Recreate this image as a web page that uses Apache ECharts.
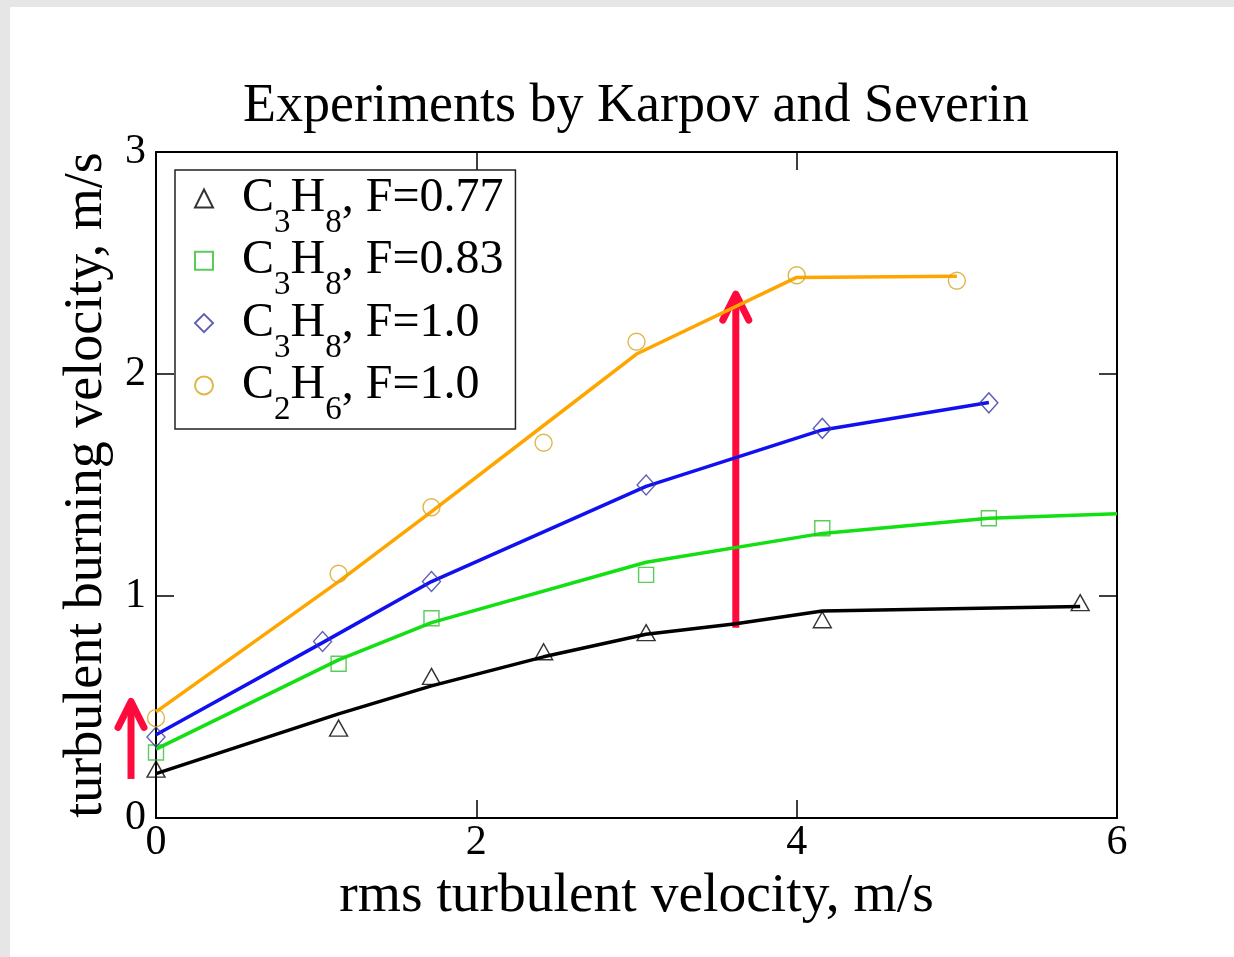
<!DOCTYPE html>
<html>
<head>
<meta charset="utf-8">
<script src="https://cdn.jsdelivr.net/npm/echarts@6/dist/echarts.min.js"></script>
<style>
  html, body { margin: 0; padding: 0; background: #e6e6e6; }
  #sheet { position: absolute; left: 10px; top: 7px; right: 0; bottom: 0; background: #ffffff; }
  #chart { position: absolute; left: 0; top: 0; width: 1234px; height: 957px; }
</style>
</head>
<body>
<div id="sheet"></div>
<div id="chart"></div>
<script>
// Measured turbulent burning velocities (markers)
const seriesNames = ['C3H8, F=0.77', 'C3H8, F=0.83', 'C3H8, F=1.0', 'C2H6, F=1.0'];

const ptsX_c3h8_077 = [0, 1.14, 1.72, 2.42, 3.06, 4.16, 5.77];
const ptsY_c3h8_077 = [0.22, 0.405, 0.638, 0.749, 0.835, 0.893, 0.97];

const ptsX_c3h8_083 = [0, 1.14, 1.72, 3.06, 4.16, 5.2];
const ptsY_c3h8_083 = [0.295, 0.695, 0.90, 1.095, 1.305, 1.35];

const ptsX_c3h8_100 = [0, 1.04, 1.72, 3.06, 4.16, 5.2];
const ptsY_c3h8_100 = [0.365, 0.795, 1.065, 1.50, 1.755, 1.87];

const ptsX_c2h6_100 = [0, 1.14, 1.72, 2.42, 3.0, 4.0, 5.0];
const ptsY_c2h6_100 = [0.45, 1.10, 1.40, 1.69, 2.145, 2.445, 2.42];

// Model curves (solid lines)
const fitX_c3h8_077 = [0, 1.14, 1.72, 2.42, 3.06, 3.62, 4.16, 5.77];
const fitY_c3h8_077 = [0.20, 0.469, 0.595, 0.726, 0.828, 0.875, 0.932, 0.953];

const fitX_c3h8_083 = [0, 1.14, 1.72, 3.06, 4.16, 5.2, 6.0];
const fitY_c3h8_083 = [0.31, 0.712, 0.88, 1.152, 1.282, 1.35, 1.37];

const fitX_c3h8_100 = [0, 1.04, 1.72, 3.06, 4.16, 5.2];
const fitY_c3h8_100 = [0.375, 0.79, 1.065, 1.494, 1.748, 1.872];

const fitX_c2h6_100 = [0, 1.14, 1.72, 2.42, 3.0, 4.0, 5.0];
const fitY_c2h6_100 = [0.478, 1.065, 1.38, 1.768, 2.09, 2.435, 2.44];

// Axis ticks
const xTicks = { min: 0, max: 6, step: 2 };
const yTicks = { min: 0, max: 3, step: 1 };

// Red annotation arrows (x position, tail value, head value)
const arrowX    = [-0.156, 3.62];
const arrowFrom = [0.176, 0.857];
const arrowTo   = [0.525, 2.36];

const SERIF = 'Liberation Serif';
const RED = '#ff0a3c';

function pairs(xs, ys) { return xs.map((x, i) => [x, ys[i]]); }

const chart = echarts.init(document.getElementById('chart'), null, { renderer: 'canvas' });

const markerSpec = [
  { symbol: 'triangle', size: [18, 16], stroke: '#000000' },
  { symbol: 'rect',     size: [15, 15], stroke: '#2fbf2f' },
  { symbol: 'diamond',  size: [18, 20], stroke: '#3838a0' },
  { symbol: 'circle',   size: [17, 17], stroke: '#d6a51c' }
];
const lineColors = ['#000000', '#12e012', '#1010f0', '#ffa500'];
const ptsX = [ptsX_c3h8_077, ptsX_c3h8_083, ptsX_c3h8_100, ptsX_c2h6_100];
const ptsY = [ptsY_c3h8_077, ptsY_c3h8_083, ptsY_c3h8_100, ptsY_c2h6_100];
const fitX = [fitX_c3h8_077, fitX_c3h8_083, fitX_c3h8_100, fitX_c2h6_100];
const fitY = [fitY_c3h8_077, fitY_c3h8_083, fitY_c3h8_100, fitY_c2h6_100];

const series = [];
seriesNames.forEach((name, i) => {
  series.push({
    type: 'line',
    data: pairs(fitX[i], fitY[i]),
    showSymbol: false,
    symbol: 'none',
    silent: true,
    lineStyle: { color: lineColors[i], width: 3.5 },
    z: 2
  });
});
seriesNames.forEach((name, i) => {
  series.push({
    type: 'scatter',
    name: name,
    data: pairs(ptsX[i], ptsY[i]),
    symbol: markerSpec[i].symbol,
    symbolSize: markerSpec[i].size,
    itemStyle: { color: 'rgba(255,255,255,0)', borderColor: markerSpec[i].stroke, borderWidth: 1.4 },
    z: 3
  });
});

const axisCommon = {
  type: 'value',
  axisLine: { show: true, onZero: false, lineStyle: { color: '#000', width: 2 } },
  axisTick: { show: true, inside: true, length: 18, lineStyle: { color: '#000', width: 1.5 } },
  splitLine: { show: false },
  minorTick: { show: false }
};

const option = {
  animation: false,
  title: {
    text: 'Experiments by Karpov and Severin',
    left: 636,
    top: 80,
    textAlign: 'center',
    padding: 0,
    textStyle: { fontFamily: SERIF, fontSize: 54, fontWeight: 'normal', color: '#000' }
  },
  grid: { left: 156, right: 117, top: 152, bottom: 139, containLabel: false },
  legend: {
    data: seriesNames,
    orient: 'vertical',
    left: 175,
    top: 170,
    // rows are taller than their spacing because of the lowered subscripts
    padding: [4.5, 12, 2, 19],
    itemWidth: 18,
    itemHeight: 18,
    itemGap: -3.2,
    borderColor: '#222',
    borderWidth: 1.5,
    backgroundColor: '#ffffff',
    selectedMode: false,
    formatter: n => n.replace(/([A-Z])(\d)/g, '$1{s|$2}'),
    textStyle: {
      fontFamily: SERIF, fontSize: 48, color: '#000', lineHeight: 48,
      padding: [0, 0, 0, 24],
      rich: {
        s: { fontFamily: SERIF, fontSize: 33, color: '#000', padding: [50, 0, 0, 0] }
      }
    }
  },
  xAxis: [
    Object.assign({}, axisCommon, {
      position: 'bottom',
      min: xTicks.min, max: xTicks.max, interval: xTicks.step,
      axisLabel: { fontFamily: SERIF, fontSize: 42, color: '#000', margin: 4 },
      name: 'rms turbulent velocity, m/s',
      nameLocation: 'middle',
      nameGap: 36,
      nameTextStyle: { fontFamily: SERIF, fontSize: 55.5, color: '#000' }
    }),
    Object.assign({}, axisCommon, {
      position: 'top',
      min: xTicks.min, max: xTicks.max, interval: xTicks.step,
      axisLabel: { show: false }
    })
  ],
  yAxis: [
    Object.assign({}, axisCommon, {
      position: 'left',
      min: yTicks.min, max: yTicks.max, interval: yTicks.step,
      axisLabel: { fontFamily: SERIF, fontSize: 42, color: '#000', margin: 10 },
      name: 'turbulent burning velocity, m/s',
      nameLocation: 'middle',
      nameGap: 37,
      nameRotate: 90,
      nameTextStyle: { fontFamily: SERIF, fontSize: 54, color: '#000' }
    }),
    Object.assign({}, axisCommon, {
      position: 'right',
      min: yTicks.min, max: yTicks.max, interval: yTicks.step,
      axisLabel: { show: false }
    })
  ],
  series: series
};

chart.setOption(option);

// Annotation arrows placed in data coordinates
function arrowElements() {
  return arrowX.map((x, i) => {
    const tail = chart.convertToPixel({ gridIndex: 0 }, [x, arrowFrom[i]]);
    const head = chart.convertToPixel({ gridIndex: 0 }, [x, arrowTo[i]]);
    return {
      type: 'group',
      z: 10,
      children: [
        {
          type: 'line',
          shape: { x1: tail[0], y1: tail[1], x2: head[0], y2: head[1] + 2 },
          style: { stroke: RED, lineWidth: 7, lineCap: 'butt' }
        },
        {
          type: 'polyline',
          shape: { points: [[head[0] - 13, head[1] + 26], [head[0], head[1]], [head[0] + 13, head[1] + 26]] },
          style: { stroke: RED, fill: null, lineWidth: 7, lineCap: 'round', lineJoin: 'round' }
        }
      ]
    };
  });
}

chart.setOption({ graphic: arrowElements() });
</script>
</body>
</html>
